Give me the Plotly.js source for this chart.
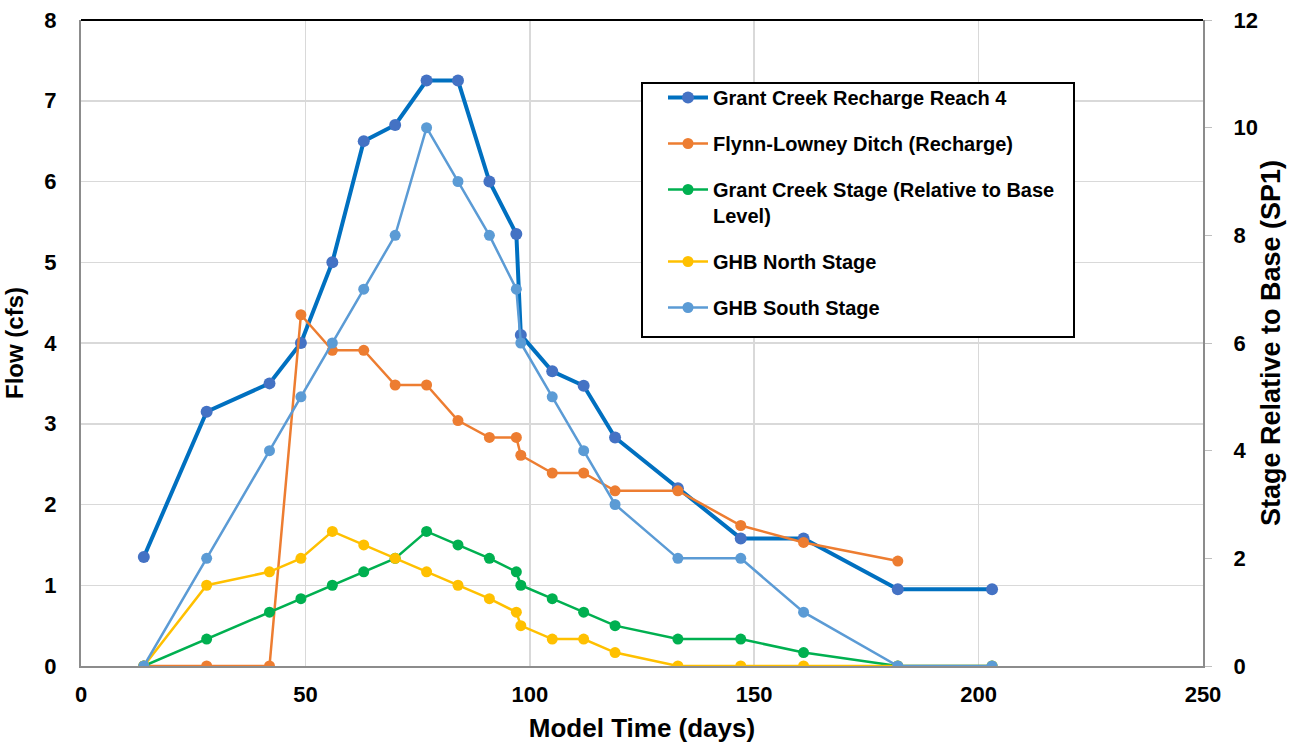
<!DOCTYPE html>
<html>
<head>
<meta charset="utf-8">
<script src="https://cdn.plot.ly/plotly-3.0.1.min.js"></script>
<style>
  html, body { margin: 0; padding: 0; background: #ffffff; }
  #chart { width: 1303px; height: 751px; }
</style>
</head>
<body>
<div id="chart"></div>
<script>
// Model time (days)
const days = [14, 28, 42, 49, 56, 63, 70, 77, 84, 91, 97, 98, 105, 112, 119, 133, 147, 161, 182, 203];

// Flows (cfs), left axis
const grantCreekRecharge = [1.35, 3.15, 3.5, 4.0, 5.0, 6.5, 6.7, 7.25, 7.25, 6.0, 5.35, 4.1, 3.65, 3.47, 2.83, 2.2, 1.58, 1.58, 0.95, 0.95];
const flynnDays = [14, 28, 42, 49, 56, 63, 70, 77, 84, 91, 97, 98, 105, 112, 119, 133, 147, 161, 182];
const flynnLowney = [0, 0, 0, 4.35, 3.91, 3.91, 3.48, 3.48, 3.04, 2.83, 2.83, 2.61, 2.39, 2.39, 2.17, 2.17, 1.74, 1.53, 1.3];

// Stages relative to base (SP1), right axis
const grantCreekStage = [0, 0.5, 1.0, 1.25, 1.5, 1.75, 2.0, 2.5, 2.25, 2.0, 1.75, 1.5, 1.25, 1.0, 0.75, 0.5, 0.5, 0.25, 0, 0];
const ghbNorth = [0, 1.5, 1.75, 2.0, 2.5, 2.25, 2.0, 1.75, 1.5, 1.25, 1.0, 0.75, 0.5, 0.5, 0.25, 0, 0, 0, 0, 0];
const ghbSouth = [0, 2.0, 4.0, 5.0, 6.0, 7.0, 8.0, 10.0, 9.0, 8.0, 7.0, 6.0, 5.0, 4.0, 3.0, 2.0, 2.0, 1.0, 0, 0];

const names = [
  "Grant Creek Recharge Reach 4",
  "Flynn-Lowney Ditch (Recharge)",
  "Grant Creek Stage (Relative to Base<br>Level)",
  "GHB North Stage",
  "GHB South Stage"
];

const FONT = "Liberation Sans, Arial, sans-serif";

const traces = [
  {x: days, y: grantCreekRecharge, name: names[0], yaxis: "y", legendgroup: "a",
   mode: "lines+markers", line: {color: "#0070C0", width: 4}, marker: {color: "#4472C4", size: 12}},
  {x: flynnDays, y: flynnLowney, name: names[1], yaxis: "y", legendgroup: "b",
   mode: "lines+markers", line: {color: "#ED7D31", width: 2.5}, marker: {color: "#ED7D31", size: 11}},
  {x: days, y: grantCreekStage, name: names[2], yaxis: "y2", legendgroup: "c",
   mode: "lines+markers", line: {color: "#00B050", width: 2.5}, marker: {color: "#00B050", size: 11}},
  {x: days, y: ghbNorth, name: names[3], yaxis: "y2", legendgroup: "d",
   mode: "lines+markers", line: {color: "#FFC000", width: 2.5}, marker: {color: "#FFC000", size: 11}},
  {x: days, y: ghbSouth, name: names[4], yaxis: "y2", legendgroup: "e",
   mode: "lines+markers", line: {color: "#5B9BD5", width: 2.5}, marker: {color: "#5B9BD5", size: 11}}
];

const PW = 1122, PH = 646, PL = 81, PT = 20;
const px = v => (v - PL) / PW;
const py = v => (PT + PH - v) / PH;

const layout = {
  width: 1303, height: 751,
  margin: {l: 81, r: 100, t: 20, b: 85},
  paper_bgcolor: "#ffffff", plot_bgcolor: "#ffffff",
  font: {family: FONT, color: "#000000"},
  showlegend: true,
  legend: {
    x: px(663), y: py(78), xanchor: "left", yanchor: "top",
    borderwidth: 0, bgcolor: "rgba(0,0,0,0)",
    font: {family: FONT, size: 20, color: "#000000", weight: "bold"},
    tracegroupgap: 17, traceorder: "grouped", itemwidth: 40, valign: "top"
  },
  xaxis: {
    range: [0, 250], dtick: 50, tick0: 0,
    showgrid: true, gridcolor: "#d9d9d9", gridwidth: 1.5,
    showline: true, linecolor: "#8c8c8c", linewidth: 2,
    zeroline: false, ticks: "", ticklabelstandoff: 8,
    tickfont: {family: FONT, size: 22, color: "#000000", weight: "bold"},
    title: {text: "Model Time (days)", standoff: 12,
            font: {family: FONT, size: 26, color: "#000000", weight: "bold"}}
  },
  yaxis: {
    range: [0, 8], dtick: 1,
    showgrid: true, gridcolor: "#d9d9d9", gridwidth: 1.5,
    showline: true, linecolor: "#8c8c8c", linewidth: 2,
    zeroline: false, ticks: "", ticklabelstandoff: 18,
    tickfont: {family: FONT, size: 22, color: "#000000", weight: "bold"},
    title: {text: "Flow (cfs)", standoff: 14,
            font: {family: FONT, size: 24, color: "#000000", weight: "bold"}}
  },
  yaxis2: {
    overlaying: "y", side: "right", range: [0, 12], dtick: 2,
    showgrid: false, showline: true, linecolor: "#8c8c8c", linewidth: 2,
    zeroline: false, ticks: "outside", ticklen: 7, tickcolor: "#bfbfbf", tickwidth: 1,
    ticklabelstandoff: 17,
    tickfont: {family: FONT, size: 22, color: "#000000", weight: "bold"},
    title: {text: "Stage Relative to Base (SP1)", standoff: 4,
            font: {family: FONT, size: 27, color: "#000000", weight: "bold"}}
  },
  shapes: [
    {type: "line", xref: "paper", yref: "paper", x0: 0, x1: 1, y0: 1, y1: 1,
     line: {color: "#000000", width: 2}},
    {type: "rect", xref: "paper", yref: "paper", layer: "above",
     x0: px(642), x1: px(1074), y0: py(337), y1: py(83),
     fillcolor: "#ffffff", line: {color: "#000000", width: 2}}
  ]
};

Plotly.newPlot("chart", traces, layout, {displayModeBar: false, staticPlot: true});
</script>
</body>
</html>
